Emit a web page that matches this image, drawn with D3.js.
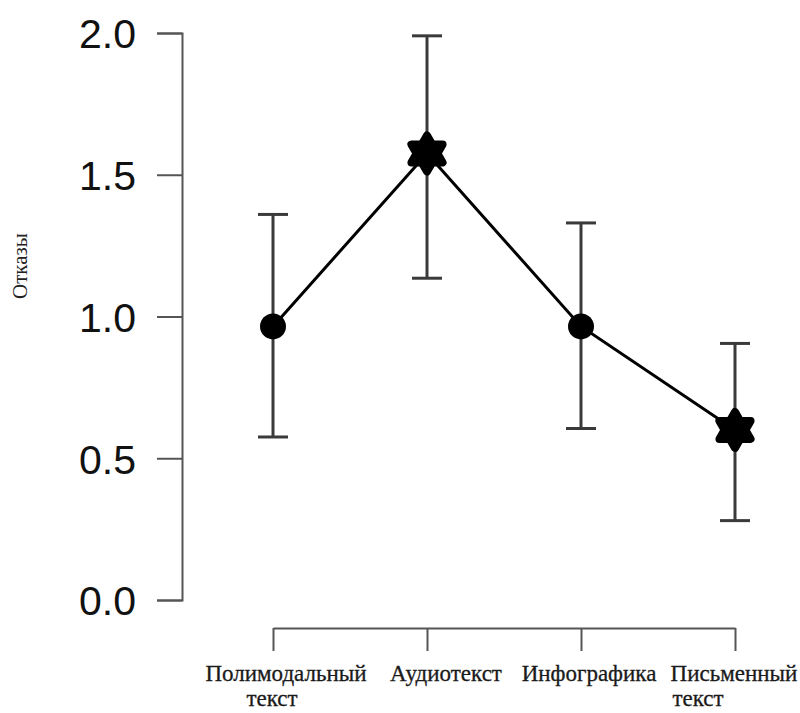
<!DOCTYPE html>
<html><head><meta charset="utf-8">
<script src="https://cdn.jsdelivr.net/npm/d3@7"></script>
<style>body{margin:0;background:#fff}svg{display:block}</style>
</head><body>
<svg id="c" width="800" height="713"></svg>
<script>
const categories = ["Полимодальный текст", "Аудиотекст", "Инфографика", "Письменный текст"];
const means = [0.965, 1.575, 0.965, 0.60];
const upper = [1.36, 1.99, 1.33, 0.905];
const lower = [0.575, 1.135, 0.605, 0.28];
const markers = ["circle", "star", "circle", "star"];
const yTicks = [0, 0.5, 1.0, 1.5, 2.0];
const yLabel = "Отказы";

const svg = d3.select("#c");
const y = d3.scaleLinear().domain([0, 2]).range([600, 33]);
const x = d3.scalePoint().domain(categories).range([273, 735]);

// y axis
const yAxis = svg.append("g").attr("transform", "translate(182,0)")
  .call(d3.axisLeft(y).tickValues(yTicks).tickFormat(d3.format(".1f")).tickSizeOuter(0).tickSize(25).tickPadding(21));
yAxis.select(".domain").attr("stroke", "#555").attr("stroke-width", 2);
yAxis.selectAll(".tick line").attr("stroke", "#555").attr("stroke-width", 2);
yAxis.selectAll(".tick text").attr("font-family", "Liberation Sans, Arial, sans-serif").attr("font-size", 41).attr("fill", "#111").attr("dy", "0.36em");

// x axis
const xAxis = svg.append("g").attr("transform", "translate(0,628)")
  .call(d3.axisBottom(x).tickSize(23).tickSizeOuter(0).tickFormat(""));
xAxis.select(".domain").attr("stroke", "#555").attr("stroke-width", 2);
xAxis.selectAll(".tick line").attr("stroke", "#555").attr("stroke-width", 2);

// x labels (two lines)
const labelPos = [
  {lines: ["Полимодальный", "текст"], x: [286, 272]},
  {lines: ["Аудиотекст"], x: [446]},
  {lines: ["Инфографика"], x: [589]},
  {lines: ["Письменный", "текст"], x: [734, 698]}
];
categories.forEach((c, i) => {
  labelPos[i].lines.forEach((t, j) => {
    svg.append("text").attr("x", labelPos[i].x[j]).attr("y", 681 + j * 25)
      .attr("text-anchor", "middle").attr("font-family", "Liberation Serif, Times New Roman, serif")
      .attr("font-size", 23).attr("fill", "#1a1a1a").attr("stroke", "#1a1a1a").attr("stroke-width", 0.3).text(t);
  });
});

// y label
svg.append("text").attr("transform", "translate(27,266) rotate(-90)")
  .attr("text-anchor", "middle").attr("font-family", "Liberation Serif, Times New Roman, serif")
  .attr("font-size", 21).attr("fill", "#222").text(yLabel);

// error bars
const eb = svg.append("g").attr("stroke", "#3a3a3a").attr("stroke-width", 3);
categories.forEach((c, i) => {
  const cx = x(c);
  eb.append("line").attr("x1", cx).attr("x2", cx).attr("y1", y(upper[i])).attr("y2", y(lower[i]));
  eb.append("line").attr("x1", cx - 15).attr("x2", cx + 15).attr("y1", y(upper[i])).attr("y2", y(upper[i]));
  eb.append("line").attr("x1", cx - 15).attr("x2", cx + 15).attr("y1", y(lower[i])).attr("y2", y(lower[i]));
});

// connecting line
svg.append("path").datum(categories.map((c, i) => [x(c), y(means[i])]))
  .attr("d", d3.line()).attr("fill", "none").attr("stroke", "#000").attr("stroke-width", 3);

// markers
categories.forEach((c, i) => {
  const g = svg.append("g").attr("transform", `translate(${x(c)},${y(means[i])})`);
  if (markers[i] === "circle") {
    g.append("circle").attr("r", 13).attr("fill", "#000");
  } else {
    const tri = d3.symbol(d3.symbolTriangle, 420)();
    [0, 180].forEach(rot => {
      g.append("path").attr("d", tri).attr("fill", "#000").attr("stroke", "#000")
        .attr("stroke-width", 8).attr("stroke-linejoin", "round")
        .attr("transform", `rotate(${rot})`);
    });
    g.append("circle").attr("r", 13).attr("fill", "#000");
  }
});
</script>
</body></html>
